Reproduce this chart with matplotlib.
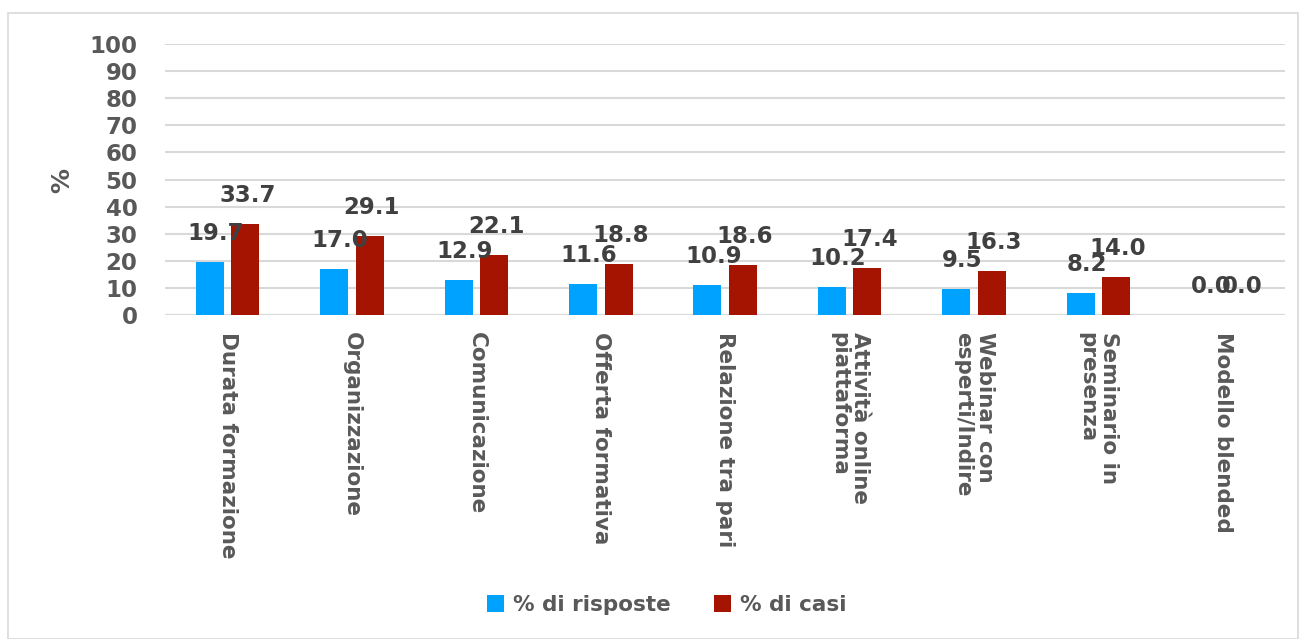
import matplotlib.pyplot as plt
import numpy as np
from matplotlib.patches import Rectangle

categories = [
    "Durata formazione",
    "Organizzazione",
    "Comunicazione",
    "Offerta formativa",
    "Relazione tra pari",
    "Attività online\npiattaforma",
    "Webinar con\nesperti/Indire",
    "Seminario in\npresenza",
    "Modello blended",
]
risposte = [19.7, 17.0, 12.9, 11.6, 10.9, 10.2, 9.5, 8.2, 0.0]
casi = [33.7, 29.1, 22.1, 18.8, 18.6, 17.4, 16.3, 14.0, 0.0]

blue = "#00A2FF"
red = "#A51400"
grey = "#595959"

plt.rcParams["font.family"] = "DejaVu Sans"
plt.rcParams["font.weight"] = "bold"

fig = plt.figure(figsize=(13.02, 6.39), dpi=100)
fig.patches.append(Rectangle((8 / 1302, 0), 1290 / 1302, 1 - 13 / 639,
                             transform=fig.transFigure, fill=False,
                             edgecolor="#D9D9D9", linewidth=1.2))
ax = fig.add_axes([0.127, 0.507, 0.86, 0.424])

x = np.arange(len(categories))
w = 0.225
gap = 0.03
b1 = ax.bar(x - w / 2 - gap, risposte, w, color=blue, label="% di risposte", zorder=3)
b2 = ax.bar(x + w / 2 + gap, casi, w, color=red, label="% di casi", zorder=3)

for bars, vals, dx in [(b1, risposte, 6), (b2, casi, 2)]:
    for r, v in zip(bars, vals):
        ax.annotate(f"{v:.1f}", (r.get_x() + r.get_width() / 2, v),
                    xytext=(dx, 17), textcoords="offset pixels",
                    ha="center", va="bottom", fontsize=16.5, fontweight="bold",
                    color="#404040", zorder=4)

ax.set_ylim(0, 100)
ax.set_yticks(range(0, 101, 10))
ax.set_xlim(-0.5, len(categories) - 0.5)
ax.set_xticks(x)
ax.set_xticklabels(categories, rotation=-90, va="top", ha="center",
                   multialignment="left", fontsize=15.5, fontweight="bold",
                   color=grey, linespacing=1.1)
ax.tick_params(axis="y", labelsize=16.5, labelcolor=grey, length=0, pad=20)
ax.tick_params(axis="x", length=0, pad=12)
for lab in ax.get_yticklabels():
    lab.set_fontweight("bold")
ax.yaxis.grid(True, color="#D9D9D9", linewidth=1.5, zorder=0)
ax.set_axisbelow(True)
for s in ax.spines.values():
    s.set_visible(False)
ax.axhline(0, color="#D9D9D9", linewidth=1.5, zorder=2)

fig.text(62 / 1302, 1 - 180 / 639, "%", rotation=90, ha="center", va="center",
         fontsize=18, fontweight="bold", color=grey)

fig.legend(handles=[b1, b2], loc="center", bbox_to_anchor=(0.512, 1 - 605 / 639),
           ncol=2, frameon=False, fontsize=15.5,
           handlelength=0.8, handleheight=0.8, handletextpad=0.4, columnspacing=2.0,
           labelcolor=grey)

fig.savefig("out.png", dpi=100)
